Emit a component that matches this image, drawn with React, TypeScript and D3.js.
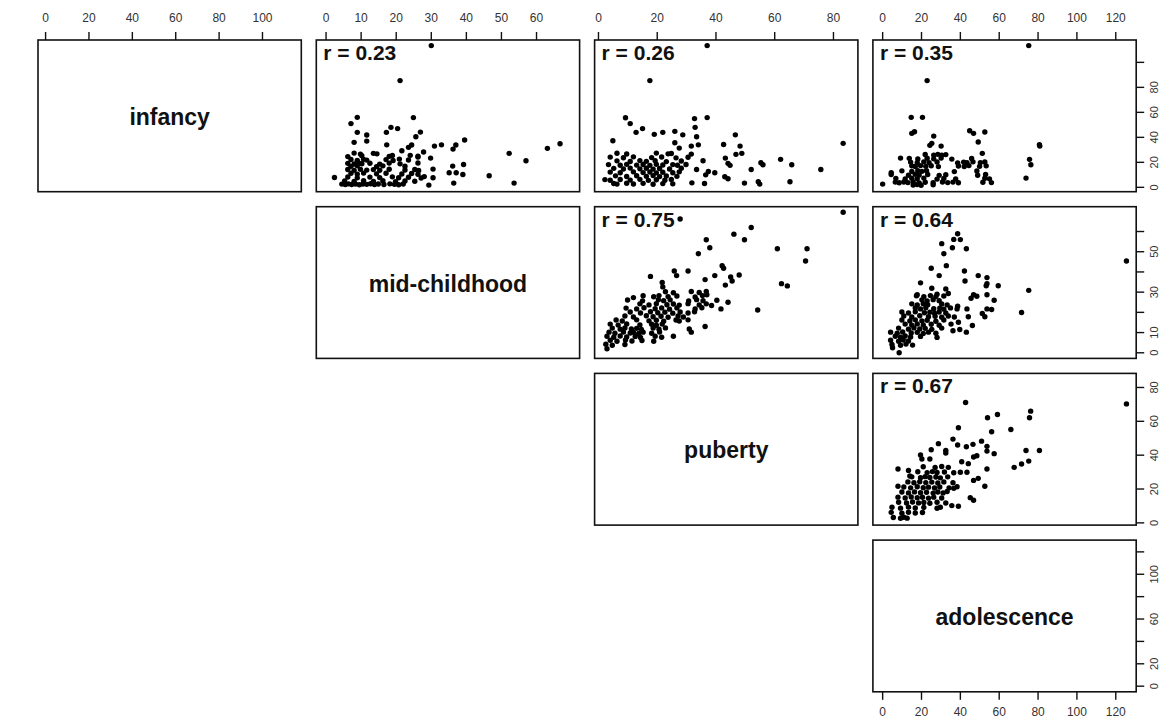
import * as d3 from "d3";

const variables = ["infancy", "mid-childhood", "puberty", "adolescence"];
// observed min / max of each variable (axes add R's 4% padding)
const ranges: [number, number][] = [
  [1, 113.4],
  [0, 69.5],
  [2, 85],
  [0, 125.5],
];
const axisTicks = [
  [0, 20, 40, 60, 80, 100],
  [0, 10, 20, 30, 40, 50, 60],
  [0, 20, 40, 60, 80],
  [0, 20, 40, 60, 80, 100, 120],
];
// labels R kept on the rotated right-hand axes
const rightLabels = [
  [0, 20, 40, 60, 80],
  [0, 10, 30, 50],
  [0, 20, 40, 60, 80],
  [0, 20, 60, 100],
];

// [x, y] pairs, x = column variable, y = row variable
const infancyMid: [number, number][] = [
  [30, 113.4], [21.1, 85.4], [8.9, 56], [7.1, 51], [24.9, 55.8], [18.5, 48], [20.4, 47], [17.2, 44], [8.9, 44],
  [11.6, 41.9], [26.9, 44.2], [25.6, 40.5], [8, 36], [11.6, 37], [17.3, 34], [24.4, 33.9], [23.5, 32], [21.6, 29.3],
  [39.5, 37.9], [32.9, 34], [30.9, 33], [37, 33.9], [36.2, 30.6], [52.2, 27.2], [63.1, 31.2], [66.7, 34.9], [57, 21.3],
  [46.5, 9.3], [53.6, 3.4], [2.4, 7.9], [29.3, 1.8], [30.5, 14.6], [30.5, 7.7], [35.1, 11.7], [36.1, 17], [37.1, 11.7],
  [39, 10.3], [39.2, 18.3], [36.4, 3.4], [29.8, 23.4], [27.8, 28.3], [26.2, 25], [24, 25.6],
  [8, 27.4], [9.8, 26.6], [13.5, 27.2], [14.5, 26.8],
  [6.2, 24.6], [10.2, 25.3], [18, 24.8], [18.9, 25.5], [26.2, 24.2],
  [7.1, 22.3], [8.9, 21.6], [10.7, 22.4], [11.6, 21.8], [17.1, 22.2], [19.1, 21.5], [20.9, 22.6], [23.5, 21.9],
  [6.2, 19.2], [8, 18.7], [9.3, 19.6], [10.2, 18.9], [12.5, 19.3], [15.3, 18.6], [18, 19.4], [21.1, 18.8], [26.2, 19.5],
  [7.1, 16.8], [8.9, 17.3], [14.4, 16.6], [16.2, 17.2], [22.5, 16.9],
  [6.2, 14.3], [8, 13.6], [9.8, 14.4], [11.6, 13.8], [13.5, 14.2], [15.3, 13.7], [18, 14.5], [22.5, 13.9], [25.3, 14.3], [26.4, 13.5],
  [7.1, 11.2], [8.9, 10.6], [10.7, 11.4], [14.4, 10.8], [17.1, 11.3], [21.6, 10.7], [24.4, 11.1], [26.2, 10.5],
  [6.2, 8.3], [8.9, 7.6], [12.5, 8.2], [15.3, 7.8], [18.9, 8.4], [20.7, 7.7], [23.5, 8.1], [27.1, 7.5], [28, 8.6],
  [5.3, 5.2], [8, 4.7], [10.7, 5.4], [13.5, 4.8], [16.2, 5.3], [19.8, 4.6], [22.5, 5.1], [25.3, 4.9],
  [4.5, 2.6], [5.5, 2.2], [6.4, 2.8], [7.3, 2.3], [8.4, 2.7], [9.5, 2.1], [10.5, 2.6], [11.6, 2.4], [12.7, 2.9],
  [13.8, 2.2], [14.9, 2.7], [16.5, 2.3], [18.2, 2.8], [19.5, 2.4], [20.7, 2.1], [22, 2.7],
];

const infancyPuberty: [number, number][] = [
  [37, 113.4], [17.5, 85.4], [9.2, 55.7], [10.8, 51], [15, 47], [12.8, 44], [19, 42.4], [21.9, 44], [26, 44.8],
  [28.7, 42], [32.7, 55], [32.9, 48], [37, 55.8], [46.6, 42], [33.4, 40.5], [4.9, 37.3], [26, 35.7], [27.5, 31.4],
  [31.6, 33], [34, 34], [42.6, 34.3], [48.2, 33], [48.8, 27.2], [46.8, 26.4], [43.2, 23.4], [44.1, 19.2], [44.8, 17.6],
  [62, 22.4], [65.8, 18.1], [55.3, 19.7], [56, 18.1], [52, 14.3], [75.7, 14.3], [83.3, 35.2], [65.2, 4.5], [54.4, 4.5],
  [54.9, 2.6], [49.7, 3.4], [43, 8.5], [44.1, 6.9], [39.6, 11.7], [37.4, 12.7], [36.5, 10], [36.1, 3.1], [35.6, 21.3],
  [33.4, 14.3], [31.8, 3.6],
  [6.3, 27.3], [9.6, 26.7], [19.7, 27.4], [23.7, 26.8], [24.8, 27.1], [31.6, 26.6],
  [4, 24.2], [8.5, 23.7], [11.9, 24.4], [18.1, 23.8], [21.5, 24.3], [26.4, 23.6], [30.5, 24.1],
  [6.3, 21.2], [10.8, 20.7], [14.1, 21.4], [16.3, 20.8], [19.3, 21.3], [23.1, 20.6], [28.2, 21.1],
  [3.4, 18.2], [7.4, 17.7], [9.6, 18.4], [13, 17.8], [15.2, 18.3], [17.5, 17.6], [19.7, 18.4], [21.9, 17.9], [25.3, 18.2], [26.9, 17.7], [29.8, 18.3],
  [5.2, 15.2], [8.5, 14.7], [10.8, 15.4], [14.1, 14.8], [16.3, 15.3], [18.6, 14.6], [20.8, 15.1], [24.2, 14.7], [28.2, 15.3],
  [4, 12.2], [7.4, 11.7], [11.9, 12.4], [15.2, 11.8], [17.5, 12.3], [19.7, 11.6], [21.9, 12.1], [25.3, 11.7], [27.5, 12.4],
  [5.8, 9.2], [9.6, 8.7], [13, 9.3], [16.3, 8.8], [18.6, 9.4], [20.8, 8.6], [23.1, 9.1], [26.7, 8.8],
  [2.2, 6.2], [4, 5.7], [7.4, 6.3], [10.8, 5.8], [14.1, 6.4], [17, 5.6], [19.7, 6.1], [22.6, 5.7], [24.8, 6.3],
  [5.2, 3.1], [6.3, 2.6], [9.6, 3.3], [11.9, 2.7], [15.2, 3.2], [18.6, 2.5], [21.9, 3], [25.3, 2.8],
];

const infancyAdolescence: [number, number][] = [
  [75.2, 113.4], [22.9, 85.4], [14.7, 56], [20.5, 56], [15, 43.2], [16.4, 44.5], [26.3, 41], [25.3, 35.2], [24.3, 33.6],
  [30.1, 33], [44.8, 45.3], [46.8, 43.2], [52.6, 44.3], [49.2, 36.3], [80.7, 34.1], [80.9, 33], [51.3, 27.2], [9.2, 23.4],
  [75.6, 22.4], [76.3, 18.1], [73.8, 7.4], [4.4, 11.7], [0, 2.6],
  [21.9, 26.3], [26.3, 25.8], [28.4, 26.4], [30.4, 25.7], [32.5, 26.2],
  [13.7, 23.2], [18.1, 22.7], [22.9, 23.3], [26.3, 22.8], [30.1, 23.4], [35.6, 22.6], [45.8, 23.1],
  [14.4, 20.2], [17.8, 19.7], [21.2, 20.4], [23.9, 19.8], [28, 20.3], [38.6, 19.6], [41.7, 20.2], [43.4, 19.7], [46.5, 20.4], [50.3, 19.8], [52.6, 20.3],
  [15, 17.2], [16.8, 16.7], [19.5, 17.4], [22.2, 16.8], [25, 17.3], [28.7, 16.6], [39, 17.1], [42, 16.7], [44.4, 17.4], [49.9, 16.8], [53.3, 17.2],
  [9.9, 13.2], [15, 12.7], [18.1, 13.4], [20.2, 12.8], [22.6, 13.3], [36.9, 12.6], [48.5, 13.1],
  [4.4, 10.2], [13.3, 9.7], [16.8, 10.4], [18.8, 9.8], [23.2, 10.3], [29.1, 9.6], [32.5, 10.1], [48.9, 9.7], [53, 10.3],
  [6.8, 7.2], [11.6, 6.7], [15, 7.3], [17.8, 6.8], [21.2, 7.4], [28, 6.6], [31.5, 7.1], [37.6, 6.7], [52.6, 7.3], [55, 6.8],
  [6.5, 4.2], [8.5, 3.7], [10.9, 4.3], [13, 3.8], [15.7, 4.4], [18.8, 3.6], [21.9, 4.1], [26, 3.7], [30.8, 4.3], [33.5, 3.8], [36.2, 4.2], [39, 3.7], [51.6, 4.1], [56, 3.8],
  [15.7, 1.8], [17.8, 2.3], [19.8, 1.6], [26, 2.1],
];

const midPuberty: [number, number][] = [
  [83.3, 69.5], [27.8, 66.2], [52, 62], [46.1, 58.7], [49.7, 55.9], [36.7, 55.9], [37.9, 52], [34, 49], [60.9, 51.5],
  [71, 51.5], [70.5, 45.4], [62.3, 34.2], [64.3, 33.1], [54.2, 21.2], [42.1, 43.1], [42.6, 41.8], [47.9, 38.5], [45, 37.5],
  [45.5, 35.5], [39.6, 38.2], [36.3, 36.2], [43.2, 33.5], [30.5, 40.5], [25.8, 40.5], [26.6, 38.2], [17.7, 37.8], [21.7, 34.8],
  [21.9, 32.6], [36.7, 30.3], [36.9, 28.7], [44.1, 25], [40.3, 26], [41.7, 21.7], [38.5, 23.4], [36.3, 13], [31.6, 10.2],
  [25.5, 8.2], [11.9, 27.3],
  [22.8, 30.2], [25.5, 29.7], [31.6, 30.3], [34.3, 29.8],
  [15.2, 28.2], [18.8, 27.7], [20.6, 28.3], [23.7, 27.8], [26.7, 28.1], [32.9, 27.6], [35.4, 28.3],
  [9.9, 26.1], [15, 25.7], [20.4, 26.3], [22.2, 25.8], [24.4, 26.2], [30.7, 25.6], [33.4, 26.3], [35.6, 25.8],
  [14.1, 24.2], [17.2, 23.7], [19.7, 24.3], [23.3, 23.8], [25.5, 24.1], [27.5, 23.6], [30.5, 24.3], [34.3, 23.7], [36.7, 24.2],
  [9.4, 22.1], [13, 21.7], [15.5, 22.3], [19.3, 21.8], [21.5, 22.2], [24.2, 21.6], [26.7, 22.2], [32.9, 21.7], [35.2, 22.3],
  [10.8, 20.2], [14.3, 19.7], [17.7, 20.3], [20.2, 19.8], [22.6, 20.1], [25.3, 19.6], [27.8, 20.2], [30.5, 19.7], [32.7, 20.3],
  [9, 18.2], [11.9, 17.7], [16.3, 18.3], [18.6, 17.8], [21.3, 18.1], [23.7, 17.6], [27.1, 18.2], [28.9, 17.7],
  [6, 16.2], [8.1, 15.7], [13, 16.3], [17.2, 15.8], [19.7, 16.1], [22.2, 15.6], [26.4, 16.2], [27.5, 15.7], [30.5, 16.3],
  [4, 14.2], [6.7, 13.7], [9.6, 14.3], [14.1, 13.8], [18.1, 14.1], [19.7, 13.6], [21.7, 14.2],
  [4.7, 12.2], [7.4, 11.7], [9, 12.3], [11.2, 11.8], [13, 12.1], [14.6, 11.6], [18.6, 12.2], [20.6, 11.7], [22.8, 12.3], [30.9, 11.8],
  [3.6, 10.2], [5.6, 9.7], [8.5, 10.3], [10.8, 9.8], [11.9, 10.1], [13.7, 9.6], [15.2, 10.2], [18.1, 9.7], [20.8, 10.3],
  [2.9, 8.2], [5.2, 7.7], [7.4, 8.3], [9.6, 7.8], [12.5, 8.1], [14.3, 7.6], [19.3, 8.2], [21.5, 7.7],
  [4, 6.2], [6.3, 5.7], [9.2, 6.3], [11.4, 5.8], [14.8, 6.1], [18.8, 5.7],
  [2.5, 4.2], [4.7, 3.7], [9, 4.1], [2.9, 2],
];

const midAdolescence: [number, number][] = [
  [125.5, 45.4], [38.6, 58.9], [36.6, 56.1], [40, 56], [30.4, 54], [35.9, 52], [43.1, 51.5], [31.5, 49], [32.8, 43.1],
  [25, 41.8], [29.1, 38.2], [42.1, 40.5], [42.4, 35.5], [49.2, 38.2], [53.7, 37.2], [53.7, 34.2], [53.3, 33.2], [59.5, 33.2],
  [75.2, 30.9], [71.5, 19.9], [19.5, 34.6], [25.3, 31.9], [32.5, 31.6], [33.8, 29.3], [28, 29], [17.8, 28.7], [46.8, 28.7],
  [48.5, 28], [45.5, 27], [53.7, 28.7], [57.4, 26], [38.6, 23], [43.4, 21.7], [53.7, 21.7], [56.1, 21.4], [51.3, 19.4],
  [52.6, 17.8], [44.1, 17.8], [39, 15.1], [36.2, 10.9], [39.7, 11.5], [43.1, 10.2], [46.2, 13.5], [8.5, 0],
  [17.4, 28.2], [21.2, 27.7], [24.6, 28.3], [27.4, 27.8], [31.5, 28.1],
  [20.2, 26.2], [22.9, 25.7], [26, 26.3], [29.1, 25.8],
  [15, 24.2], [17.8, 23.7], [20.9, 24.3], [23.2, 23.8], [30.4, 24.1], [33.2, 23.7],
  [16.8, 22.2], [19.5, 21.7], [22.2, 22.3], [26.3, 21.8], [29.4, 22.1], [31.5, 21.6], [34.9, 22.2], [38.3, 21.7],
  [9.9, 20.2], [13.3, 19.7], [16.8, 20.3], [21.5, 19.8], [24.3, 20.1], [26.7, 19.6], [29.1, 20.2], [32.5, 19.7],
  [10.9, 18.2], [15, 17.7], [19.1, 18.3], [23.6, 17.8], [27, 18.1], [30.4, 17.6], [33.8, 18.2], [36.9, 17.7],
  [9.9, 16.2], [14, 15.7], [16.8, 16.3], [20.2, 15.8], [22.9, 16.1], [27.4, 15.6], [31.5, 16.2],
  [11.6, 14.2], [15, 13.7], [17.8, 14.3], [20.9, 13.8], [25, 14.1], [29.1, 13.6], [35.2, 14.2],
  [8.2, 12.2], [13.3, 11.7], [16.1, 12.3], [19.1, 11.8], [21.9, 12.1], [25.3, 11.6], [30.4, 12.2],
  [4.1, 10.2], [7.5, 9.7], [10.3, 10.3], [14.7, 9.8], [17.8, 10.1], [20.9, 9.6], [23.6, 10.2], [27.4, 9.7],
  [6.5, 8.2], [9.2, 7.7], [11.6, 8.3], [14.4, 7.8], [19.5, 8.1], [28, 7.6],
  [4.1, 6.2], [8.2, 5.7], [10.6, 6.3], [13.3, 5.8],
  [4.8, 4.1], [9.2, 3.7], [12, 4.3], [15.4, 3.8], [5.1, 2.5],
];

const pubertyAdolescence: [number, number][] = [
  [125.5, 70.3], [42.7, 71.1], [76.2, 66], [75.6, 62.1], [59.1, 64], [54, 62.1], [66, 55.2], [56.1, 53.8], [39, 56.2],
  [36.2, 49.5], [50.9, 48.3], [46.5, 46.4], [43.1, 45], [38.6, 46], [28.7, 46.8], [25, 43.2], [32.5, 42.8], [32.5, 41.3],
  [53.7, 45.2], [53.7, 42.4], [57.4, 40.9], [73.8, 42.8], [80.7, 42.8], [75.2, 36.5], [71.5, 34.8], [67.7, 32.8], [48.5, 39.7],
  [46.8, 38.9], [20.2, 37.7], [19.5, 40.1], [24.3, 37.7], [7.9, 31.8], [13.3, 31], [14, 27.7], [7.9, 21.6], [40.7, 36.1],
  [44.1, 35], [40, 29.9], [43.4, 29.9], [53.7, 31.8], [49.2, 26.3], [46.8, 25.1], [52.6, 21.6], [45.1, 14.9], [46.8, 13.4],
  [39, 9.8], [35.6, 10.2], [33.2, 18.5], [36.6, 20.4],
  [20.9, 33.2], [27, 32.7], [30.4, 33.3], [33.8, 32.8],
  [18.1, 30.2], [22.9, 29.7], [25.6, 30.3], [28, 29.8], [31.8, 30.1], [36.6, 29.6],
  [15, 27.2], [19.5, 26.7], [21.9, 27.3], [24.3, 26.8], [27.4, 27.1], [29.7, 26.6], [33.5, 27.2],
  [13, 24.2], [16.1, 23.7], [19.1, 24.3], [22.2, 23.8], [25.3, 24.1], [28.4, 23.6], [31.5, 24.2], [36.2, 23.7],
  [10.9, 21.2], [14.4, 20.7], [17.8, 21.3], [20.9, 20.8], [23.6, 21.1], [26.7, 20.6], [29.4, 21.2], [34.2, 20.7], [38.3, 21.3],
  [9.9, 18.2], [13.3, 17.7], [16.4, 18.3], [19.5, 17.8], [22.6, 18.1], [26, 17.6], [28.4, 18.2], [31.1, 17.7],
  [7.9, 15.2], [11.6, 14.7], [14.7, 15.3], [17.8, 14.8], [20.5, 15.1], [23.6, 14.6], [26.3, 15.2], [30.4, 14.7],
  [8.2, 12.2], [12.3, 11.7], [15.4, 12.3], [18.5, 11.8], [21.2, 12.1], [24.3, 11.6], [28, 12.2], [32.5, 11.7],
  [4.8, 9.2], [9.2, 8.7], [13.3, 9.3], [16.8, 8.8], [21.2, 9.1], [28, 8.6], [29.7, 9.2],
  [4.4, 6.2], [9.9, 5.7], [13.3, 6.3], [16.8, 5.8], [20.5, 6.1],
  [5.5, 3.2], [9.2, 2.7], [10.9, 3.3], [12.6, 2.8],
];

const panels = [
  { row: 0, col: 1, r: "0.23", points: infancyMid },
  { row: 0, col: 2, r: "0.26", points: infancyPuberty },
  { row: 0, col: 3, r: "0.35", points: infancyAdolescence },
  { row: 1, col: 2, r: "0.75", points: midPuberty },
  { row: 1, col: 3, r: "0.64", points: midAdolescence },
  { row: 2, col: 3, r: "0.67", points: pubertyAdolescence },
];

const width = 1160;
const height = 721;
const left0 = 38;
const colStep = 278.3;
const panelW = 263.3;
const top0 = 40;
const rowStep = 166.7;
const panelH = 151.7;
const font = "'Liberation Sans', Arial, Helvetica, sans-serif";

const padded = ([lo, hi]: [number, number]) => {
  const d = (hi - lo) * 0.04;
  return [lo - d, hi + d];
};

const xScales = variables.map((_, i) =>
  d3
    .scaleLinear()
    .domain(padded(ranges[i]))
    .range([left0 + i * colStep, left0 + i * colStep + panelW]),
);
const yScales = variables.map((_, i) =>
  d3
    .scaleLinear()
    .domain(padded(ranges[i]))
    .range([top0 + i * rowStep + panelH, top0 + i * rowStep]),
);

export default function App() {
  const rightEdge = left0 + 3 * colStep + panelW;
  const bottomEdge = top0 + 3 * rowStep + panelH;

  return (
    <svg
      width={width}
      height={height}
      style={{ position: "absolute", left: 0, top: 0, background: "#fff" }}
      fontFamily={font}
    >
      <rect width={width} height={height} fill="#fff" />

      {/* top axes */}
      {axisTicks.map((ticks, j) => (
        <g key={`top${j}`}>
          {ticks.map((t) => (
            <g key={t}>
              <line
                x1={xScales[j](t)}
                x2={xScales[j](t)}
                y1={top0}
                y2={top0 - 8}
                stroke="#111"
                strokeWidth={1.4}
              />
              <text x={xScales[j](t)} y={22} textAnchor="middle" fontSize={12} fill="#333">
                {t}
              </text>
            </g>
          ))}
        </g>
      ))}

      {/* bottom axis under the last column */}
      {axisTicks[3].map((t) => (
        <g key={`bot${t}`}>
          <line
            x1={xScales[3](t)}
            x2={xScales[3](t)}
            y1={bottomEdge}
            y2={bottomEdge + 8}
            stroke="#111"
            strokeWidth={1.4}
          />
          <text x={xScales[3](t)} y={716} textAnchor="middle" fontSize={12} fill="#333">
            {t}
          </text>
        </g>
      ))}

      {/* right axes */}
      {axisTicks.map((ticks, i) => (
        <g key={`right${i}`}>
          {ticks.map((t) => (
            <line
              key={t}
              x1={rightEdge}
              x2={rightEdge + 8}
              y1={yScales[i](t)}
              y2={yScales[i](t)}
              stroke="#111"
              strokeWidth={1.4}
            />
          ))}
          {rightLabels[i].map((t) => (
            <text
              key={`l${t}`}
              transform={`translate(1157.5,${yScales[i](t)}) rotate(-90)`}
              textAnchor="middle"
              fontSize={11}
              fill="#333"
            >
              {t}
            </text>
          ))}
        </g>
      ))}

      {/* diagonal name panels */}
      {variables.map((name, i) => {
        const [x0, x1] = xScales[i].range();
        const [y1, y0] = yScales[i].range();
        return (
          <g key={name}>
            <rect x={x0} y={y0} width={x1 - x0} height={y1 - y0} fill="none" stroke="#111" strokeWidth={1.6} />
            <text
              x={(x0 + x1) / 2}
              y={(y0 + y1) / 2 + 9}
              textAnchor="middle"
              fontSize={23}
              fontWeight="bold"
              fill="#111"
            >
              {name}
            </text>
          </g>
        );
      })}

      {/* upper scatter panels */}
      {panels.map((p) => {
        const xs = xScales[p.col];
        const ys = yScales[p.row];
        const [x0, x1] = xs.range();
        const [y1, y0] = ys.range();
        return (
          <g key={`${p.row}-${p.col}`}>
            <rect x={x0} y={y0} width={x1 - x0} height={y1 - y0} fill="none" stroke="#111" strokeWidth={1.6} />
            {p.points.map((d, k) => (
              <circle key={k} cx={xs(d[0])} cy={ys(d[1])} r={2.7} fill="#000" />
            ))}
            <text x={x0 + 7} y={y0 + 20} fontSize={21} fontWeight="bold" fill="#111">
              r = {p.r}
            </text>
          </g>
        );
      })}
    </svg>
  );
}
